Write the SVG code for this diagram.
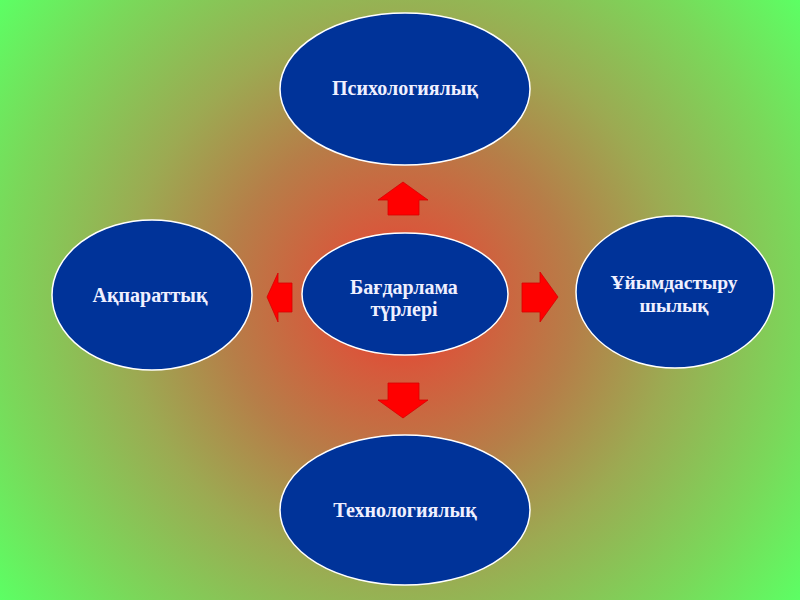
<svg xmlns="http://www.w3.org/2000/svg" width="800" height="600" viewBox="0 0 800 600">
  <defs>
    <radialGradient id="bg" gradientUnits="userSpaceOnUse" cx="400" cy="300" r="500">
      <stop offset="0" stop-color="#ec3c2c"/>
      <stop offset="0.15" stop-color="#d65a3c"/>
      <stop offset="0.35" stop-color="#b67e48"/>
      <stop offset="0.55" stop-color="#9caa52"/>
      <stop offset="0.8" stop-color="#7ad85a"/>
      <stop offset="1" stop-color="#5cff64"/>
    </radialGradient>
  </defs>
  <style>
    .node ellipse { fill: #003399; stroke: #ffffff; stroke-width: 1.5; }
    .node text { font-family: "Liberation Serif", "DejaVu Serif", serif; font-weight: bold; font-size: 20px; fill: #f0f0ff; text-anchor: middle; }
    .arrow { fill: #ff0000; stroke: #d80000; stroke-width: 0.8; }
  </style>
  <rect width="800" height="600" fill="url(#bg)"/>

  <g id="connectors">
    <polygon class="arrow" points="388,215 388,200 378,200 403,182 428,200 419,200 419,215"/>
    <polygon class="arrow" points="388,383 419,383 419,400 428,400 403,418 378,400 388,400"/>
    <polygon class="arrow" points="292,283 292,312 278,312 278,322 267,297 278,273 278,283"/>
    <polygon class="arrow" points="522,283 540,283 540,272 558,297 540,322 540,312 522,312"/>
  </g>

  <g id="center" class="node">
    <ellipse cx="405" cy="294" rx="103" ry="61"/>
    <text x="404" y="294">Бағдарлама</text>
    <text x="404" y="316">түрлері</text>
  </g>
  <g id="top" class="node">
    <ellipse cx="405" cy="89" rx="125" ry="76"/>
    <text x="405" y="95">Психологиялық</text>
  </g>
  <g id="left" class="node">
    <ellipse cx="152" cy="295" rx="100" ry="75"/>
    <text x="150" y="302">Ақпараттық</text>
  </g>
  <g id="right" class="node">
    <ellipse cx="675" cy="292" rx="99" ry="76"/>
    <text x="674" y="289" style="font-size:19.5px">Ұйымдастыру</text>
    <text x="674" y="312" style="font-size:19.5px">шылық</text>
  </g>
  <g id="bottom" class="node">
    <ellipse cx="405" cy="510" rx="125" ry="75"/>
    <text x="405" y="517">Технологиялық</text>
  </g>
</svg>
